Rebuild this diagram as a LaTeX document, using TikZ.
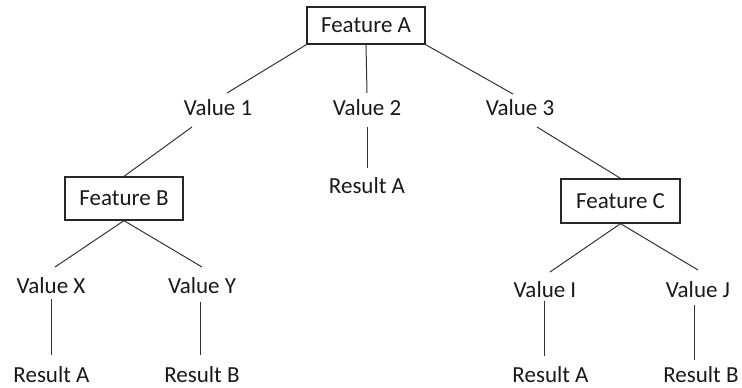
\documentclass[tikz,border=0pt]{standalone}
\usepackage{fontspec}
\setmainfont{Carlito}
\begin{document}
\begin{tikzpicture}[x=1pt,y=-1pt,
  lbl/.style={inner sep=0pt,font=\fontsize{23}{27}\selectfont,text=black!90},
  featbox/.style={lbl,draw=black!85,line width=1.3pt,minimum width=118pt},
  conn/.style={draw=black!80,line width=1pt}]
\useasboundingbox (0,0) rectangle (742,388);
% feature boxes
\node[featbox,minimum height=37pt] (fa) at (366,25.5) {Feature A};
\node[featbox,minimum height=43pt] (fb) at (124,198.5) {Feature B};
\node[featbox,minimum height=44pt,minimum width=119pt] (fc) at (620.5,201) {Feature C};
% values
\node[lbl] (v1) at (218,108) {Value 1};
\node[lbl] (v2) at (367,108) {Value 2};
\node[lbl] (v3) at (520,108) {Value 3};
\node[lbl] (vx) at (51,286) {Value X};
\node[lbl] (vy) at (202,286) {Value Y};
\node[lbl] (vi) at (545,289.5) {Value I};
\node[lbl] (vj) at (698,289.5) {Value J};
% results
\node[lbl] (r2) at (367,186) {Result A};
\node[lbl] (ra1) at (51.5,375) {Result A};
\node[lbl] (rb1) at (202,375) {Result B};
\node[lbl] (ra2) at (550.5,375) {Result A};
\node[lbl] (rb2) at (701,375) {Result B};
% connectors
\draw[conn] (fa.south west) -- ([shift={(9,-15)}]v1.center);
\draw[conn] (fa.south) -- ([shift={(0,-15)}]v2.center);
\draw[conn] (fa.south east) -- ([shift={(-7,-14)}]v3.center);
\draw[conn] ([shift={(-26,19)}]v1.center) -- (fb.north);
\draw[conn] ([shift={(0,19)}]v2.center) -- ([shift={(0,-18)}]r2.center);
\draw[conn] ([shift={(17,19)}]v3.center) -- (fc.north);
\draw[conn] (fb.south) -- ([shift={(4,-19)}]vx.center);
\draw[conn] (fb.south) -- ([shift={(0,-19)}]vy.center);
\draw[conn] ([shift={(0,13)}]vx.center) -- ([shift={(-0.5,-20)}]ra1.center);
\draw[conn] ([shift={(-2,16)}]vy.center) -- ([shift={(-2,-20)}]rb1.center);
\draw[conn] (fc.south) -- ([shift={(5,-17.5)}]vi.center);
\draw[conn] (fc.south) -- ([shift={(0,-19.5)}]vj.center);
\draw[conn] ([shift={(-1,11.5)}]vi.center) -- ([shift={(-6.5,-19)}]ra2.center);
\draw[conn] ([shift={(-4,15.5)}]vj.center) -- ([shift={(-7,-15)}]rb2.center);
\end{tikzpicture}
\end{document}
